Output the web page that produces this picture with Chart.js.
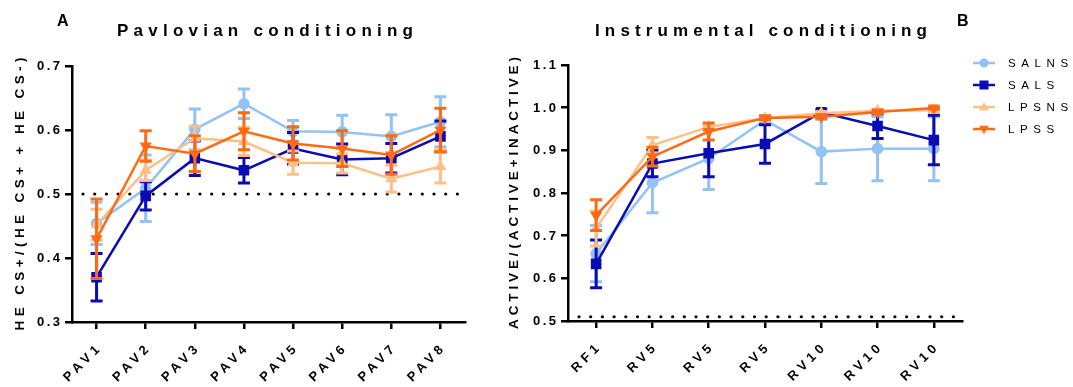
<!DOCTYPE html>
<html><head><meta charset="utf-8">
<script src="https://cdn.jsdelivr.net/npm/chart.js@4/dist/chart.umd.min.js"></script>
<style>
html,body{margin:0;padding:0;background:#fff;}
#wrap{position:relative;width:1073px;height:387px;overflow:hidden;}
canvas{position:absolute;top:0;}
</style>
</head><body><div id="wrap">
<canvas id="c1" width="490" height="387" style="left:0;width:490px;height:387px"></canvas>
<canvas id="c2" width="583" height="387" style="left:490px;width:583px;height:387px"></canvas>
</div>
<script>
// ---- data ----
const seriesNames = ['SALNS', 'SALS', 'LPSNS', 'LPSS'];
const pavLabels = ['PAV1', 'PAV2', 'PAV3', 'PAV4', 'PAV5', 'PAV6', 'PAV7', 'PAV8'];
const pavSALNS = [0.454, 0.509, 0.601, 0.641, 0.598, 0.597, 0.590, 0.613];
const pavSALNSErr = [0.033, 0.052, 0.032, 0.023, 0.017, 0.026, 0.034, 0.039];
const pavSALS = [0.370, 0.497, 0.556, 0.537, 0.571, 0.554, 0.556, 0.590];
const pavSALSErr = [0.037, 0.022, 0.027, 0.020, 0.025, 0.024, 0.023, 0.024];
const pavLPSNS = [0.452, 0.537, 0.587, 0.582, 0.549, 0.548, 0.524, 0.543];
const pavLPSNSErr = [0.024, 0.016, 0.019, 0.022, 0.018, 0.015, 0.021, 0.026];
const pavLPSS = [0.430, 0.575, 0.563, 0.598, 0.579, 0.571, 0.561, 0.600];
const pavLPSSErr = [0.062, 0.024, 0.028, 0.029, 0.026, 0.028, 0.030, 0.034];
const pavChance = 0.5;
const pavTicks = [0.3, 0.4, 0.5, 0.6, 0.7];

const insLabels = ['RF1', 'RV5', 'RV5', 'RV5', 'RV10', 'RV10', 'RV10'];
const insSALNS = [0.658, 0.824, 0.881, 0.971, 0.897, 0.904, 0.904];
const insSALNSErr = [0.066, 0.070, 0.073, 0.010, 0.075, 0.075, 0.075];
const insSALS = [0.634, 0.869, 0.893, 0.915, 0.989, 0.957, 0.924];
const insSALSErr = [0.056, 0.031, 0.055, 0.045, 0.006, 0.029, 0.058];
const insLPSNS = [0.717, 0.912, 0.955, 0.975, 0.987, 0.993, 0.994];
const insLPSNSErr = [0.041, 0.018, 0.005, 0.004, 0.004, 0.003, 0.003];
const insLPSS = [0.748, 0.885, 0.944, 0.976, 0.979, 0.990, 0.999];
const insLPSSErr = [0.036, 0.022, 0.020, 0.004, 0.004, 0.003, 0.002];
const insChance = 0.51;
const insTicks = [0.5, 0.6, 0.7, 0.8, 0.9, 1.0, 1.1];

// ---- styles ----
const colors = ['#93c2f5', '#0b0bb4', '#ffc088', '#ff6a13'];
const shapes = [
  {pointStyle: 'circle', radius: 5.8, rotation: 0},
  {pointStyle: 'rect', radius: 7.5, rotation: 0},
  {pointStyle: 'triangle', radius: 7, rotation: 0},
  {pointStyle: 'triangle', radius: 7, rotation: 180}
];
const FONT = "'Liberation Sans', Arial, sans-serif";

function makeDatasets(vals, errs) {
  return vals.map((v, i) => ({
    label: seriesNames[i],
    data: v,
    errors: errs[i],
    borderColor: colors[i],
    backgroundColor: colors[i],
    borderWidth: 2.5,
    tension: 0,
    pointStyle: shapes[i].pointStyle,
    pointRadius: shapes[i].radius,
    pointRotation: shapes[i].rotation,
    pointBorderWidth: 0,
    order: 4 - i
  }));
}

// text helpers (letter-spaced text)
function rawWidth(ctx, text, font) {
  ctx.save(); ctx.font = font; ctx.letterSpacing = '0px';
  const w = ctx.measureText(text).width; ctx.restore(); return w;
}
function drawSpaced(ctx, text, x, y, font, spacing, align, baseline) {
  const w = rawWidth(ctx, text, font) + spacing * (text.length - 1);
  let sx = x;
  if (align === 'right') sx = x - w; else if (align === 'center') sx = x - w / 2;
  ctx.save();
  ctx.font = font; ctx.letterSpacing = spacing + 'px';
  ctx.fillStyle = '#000'; ctx.textAlign = 'left'; ctx.textBaseline = baseline || 'alphabetic';
  ctx.fillText(text, sx, y);
  ctx.restore();
}
function fitSpacing(ctx, text, font, target) {
  return (target - rawWidth(ctx, text, font)) / (text.length - 1);
}

const errorBars = {
  id: 'errorBars',
  beforeDatasetDraw(chart, args) {
    const ds = chart.data.datasets[args.index];
    if (!ds.errors) return;
    const y = chart.scales.y, ctx = chart.ctx;
    ctx.save();
    ctx.strokeStyle = ds.borderColor;
    ctx.lineWidth = 3;
    args.meta.data.forEach((pt, i) => {
      const v = ds.data[i], e = ds.errors[i];
      const yt = y.getPixelForValue(v + e), yb = y.getPixelForValue(v - e);
      const x = pt.x;
      ctx.beginPath();
      ctx.moveTo(x, yt); ctx.lineTo(x, yb);
      ctx.moveTo(x - 6, yt); ctx.lineTo(x + 6, yt);
      ctx.moveTo(x - 6, yb); ctx.lineTo(x + 6, yb);
      ctx.stroke();
    });
    ctx.restore();
  }
};

const chanceLine = {
  id: 'chanceLine',
  beforeDatasetsDraw(chart, args, opts) {
    const ctx = chart.ctx, y = chart.scales.y.getPixelForValue(opts.value);
    ctx.save();
    ctx.fillStyle = '#000';
    for (let x = chart.chartArea.left + opts.start; x < chart.chartArea.right - 2; x += 11.7) {
      ctx.beginPath(); ctx.arc(x, y, 1.6, 0, Math.PI * 2); ctx.fill();
    }
    ctx.restore();
  }
};

// axis labels, titles
const annotations = {
  id: 'annotations',
  afterDraw(chart, args, opts) {
    const ctx = chart.ctx, area = chart.chartArea;
    const xs = chart.scales.x, ys = chart.scales.y;
    // y tick labels
    const yFont = 'bold 13px ' + FONT;
    opts.yTicks.forEach(v => {
      drawSpaced(ctx, v.toFixed(1), area.left - 12, ys.getPixelForValue(v) + 0.5, yFont, 2.5, 'right', 'middle');
    });
    // x tick labels (rotated 45deg)
    const xFont = 'bold 13px ' + FONT;
    opts.xLabels.forEach((lab, i) => {
      const px = xs.getPixelForValue(i);
      ctx.save();
      ctx.translate(px + 1, area.bottom + 26);
      ctx.rotate(-Math.PI / 4);
      drawSpaced(ctx, lab, 0, 0, xFont, 4.3, 'right', 'middle');
      ctx.restore();
    });
    // y axis title
    const tFont = 'bold 13.5px ' + FONT;
    const sp = fitSpacing(ctx, opts.yTitle, tFont, opts.yTitleLen);
    ctx.save();
    ctx.translate(opts.yTitleX, (area.top + area.bottom) / 2);
    ctx.rotate(-Math.PI / 2);
    drawSpaced(ctx, opts.yTitle, 0, 0, tFont, sp, 'center', 'middle');
    ctx.restore();
    // panel letter and title
    drawSpaced(ctx, opts.letter, opts.lx, 26, 'bold 16px ' + FONT, 0, 'left');
    const hFont = 'bold 17px ' + FONT;
    drawSpaced(ctx, opts.title, opts.tx, 36, hFont, fitSpacing(ctx, opts.title, hFont, opts.tw), 'left');
  }
};

function drawMarker(ctx, i, x, y, r) {
  ctx.beginPath();
  if (i === 0) { ctx.arc(x, y, r, 0, Math.PI * 2); }
  else if (i === 1) { ctx.rect(x - r, y - r, 2 * r, 2 * r); }
  else if (i === 2) { ctx.moveTo(x, y - r * 1.1); ctx.lineTo(x + r * 1.1, y + r * 0.75); ctx.lineTo(x - r * 1.1, y + r * 0.75); ctx.closePath(); }
  else { ctx.moveTo(x, y + r * 1.1); ctx.lineTo(x + r * 1.1, y - r * 0.75); ctx.lineTo(x - r * 1.1, y - r * 0.75); ctx.closePath(); }
  ctx.fill();
}

const legendPlugin = {
  id: 'customLegend',
  afterDraw(chart) {
    const ctx = chart.ctx;
    const ys = [63, 85, 107, 129];
    seriesNames.forEach((name, i) => {
      ctx.save();
      ctx.strokeStyle = colors[i]; ctx.fillStyle = colors[i]; ctx.lineWidth = 2.5;
      ctx.beginPath(); ctx.moveTo(483, ys[i]); ctx.lineTo(505, ys[i]); ctx.stroke();
      drawMarker(ctx, i, 494, ys[i], 4.5);
      ctx.restore();
      drawSpaced(ctx, name, 518, ys[i] + 0.5, '11.5px ' + FONT, 5.6, 'left', 'middle');
    });
  }
};

function makeChart(id, labels, datasets, ticks, cfg) {
  return new Chart(document.getElementById(id), {
    type: 'line',
    data: {labels: labels, datasets: datasets},
    plugins: cfg.plugins,
    options: {
      responsive: false,
      animation: false,
      layout: {padding: cfg.padding},
      plugins: {
        legend: {display: false},
        tooltip: {enabled: false},
        chanceLine: {value: cfg.chance, start: cfg.dotStart},
        annotations: Object.assign({yTicks: ticks, xLabels: labels}, cfg.ann)
      },
      scales: {
        x: {
          type: 'category',
          offset: true,
          afterFit(s) { s.height = 60; },
          grid: {drawOnChartArea: false, color: '#000', lineWidth: 2.5, tickLength: 7},
          border: {color: '#000', width: 2.5},
          ticks: {display: false, autoSkip: false}
        },
        y: {
          min: ticks[0], max: ticks[ticks.length - 1],
          afterFit(s) { s.width = cfg.yWidth; },
          afterBuildTicks(s) { s.ticks = ticks.map(v => ({value: v})); },
          grid: {drawOnChartArea: false, color: '#000', lineWidth: 2.5, tickLength: 7},
          border: {color: '#000', width: 2.5},
          ticks: {display: false}
        }
      }
    }
  });
}

makeChart('c1', pavLabels,
  makeDatasets([pavSALNS, pavSALS, pavLPSNS, pavLPSS], [pavSALNSErr, pavSALSErr, pavLPSNSErr, pavLPSSErr]),
  pavTicks,
  {padding: {top: 66, right: 25, bottom: 5, left: 0}, yWidth: 72, chance: pavChance, dotStart: 11,
   ann: {yTitle: 'HE CS+/(HE CS+ + HE CS-)', yTitleX: 20, yTitleLen: 273,
         letter: 'A', lx: 57, title: 'Pavlovian conditioning', tx: 117, tw: 296},
   plugins: [chanceLine, errorBars, annotations]});

makeChart('c2', insLabels,
  makeDatasets([insSALNS, insSALS, insLPSNS, insLPSS], [insSALNSErr, insSALSErr, insLPSNSErr, insLPSSErr]),
  insTicks,
  {padding: {top: 65, right: 111, bottom: 6, left: 0}, yWidth: 78, chance: insChance, dotStart: 11,
   ann: {yTitle: 'ACTIVE/(ACTIVE+INACTIVE)', yTitleX: 24, yTitleLen: 272,
         letter: 'B', lx: 467, title: 'Instrumental conditioning', tx: 105, tw: 332},
   plugins: [chanceLine, errorBars, annotations, legendPlugin]});
</script>
</body></html>
